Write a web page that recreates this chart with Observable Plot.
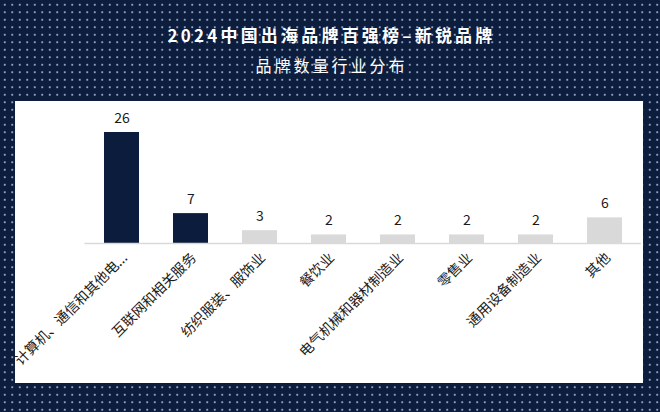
<!DOCTYPE html>
<html>
<head>
<meta charset="utf-8">
<script src="https://cdn.jsdelivr.net/npm/d3@7"></script>
<script src="https://cdn.jsdelivr.net/npm/@observablehq/plot@0.6"></script>
<style>
  html, body { margin: 0; padding: 0; }
  body {
    width: 660px; height: 412px; overflow: hidden; position: relative;
    background-color: #0c1d3e;
    background-image: radial-gradient(circle, rgba(170,185,215,0.85) 0.75px, rgba(0,0,0,0) 1.1px);
    background-size: 7.5px 7.5px;
    background-position: 1px 1px;
    font-family: "Noto Sans CJK SC", "Noto Sans", sans-serif;
  }
  #title {
    position: absolute; left: 0; width: 660px; top: 24px; text-align: center;
    color: #ffffff; font-size: 17px; font-weight: bold; letter-spacing: 3.2px; line-height: 22px;
    padding-left: 3px; box-sizing: border-box;
  }
  #subtitle {
    position: absolute; left: 0; width: 660px; top: 54px; text-align: center;
    color: #ffffff; font-size: 16px; font-weight: 400; letter-spacing: 3px; line-height: 22px;
    padding-left: 3px; box-sizing: border-box;
  }
  #panel {
    position: absolute; left: 15px; top: 101px; width: 628px; height: 282px; background: #ffffff;
  }
</style>
</head>
<body>
<div id="title">2024中国出海品牌百强榜–新锐品牌</div>
<div id="subtitle">品牌数量行业分布</div>
<div id="panel"></div>
<script>
const categories = ["计算机、通信和其他电...", "互联网和相关服务", "纺织服装、服饰业", "餐饮业", "电气机械和器材制造业", "零售业", "通用设备制造业", "其他"];
const counts = [26, 7, 3, 2, 2, 2, 2, 6];
const highlighted = ["计算机、通信和其他电...", "互联网和相关服务"];

const data = categories.map((c, i) => ({category: c, count: counts[i]}));
const navy = "#0b1c3d";
const gray = "#d9d9d9";

const chart = Plot.plot({
  width: 628,
  height: 282,
  marginLeft: 69.5,
  marginRight: 2,
  marginTop: 31,
  marginBottom: 140,
  style: {background: "transparent", fontFamily: "'Noto Sans CJK SC', sans-serif", overflow: "visible"},
  x: {domain: categories, paddingInner: 0.5, paddingOuter: 0.25, axis: null, label: null},
  y: {domain: [0, 26], axis: null},
  marks: [
    Plot.barY(data, {x: "category", y: "count", fill: d => highlighted.includes(d.category) ? navy : gray}),
    Plot.ruleY([0], {stroke: "#d9d9d9", strokeWidth: 1.5}),
    Plot.text(data, {x: "category", y: "count", text: d => String(d.count), dy: -14, fontSize: 14, fill: "#1a1a1a"}),
    Plot.axisX({tickSize: 0, tickPadding: 12, dx: 3, tickRotate: -45, fontSize: 14, color: "#1a1a1a", label: null})
  ]
});
document.getElementById("panel").appendChild(chart);
</script>
</body>
</html>
